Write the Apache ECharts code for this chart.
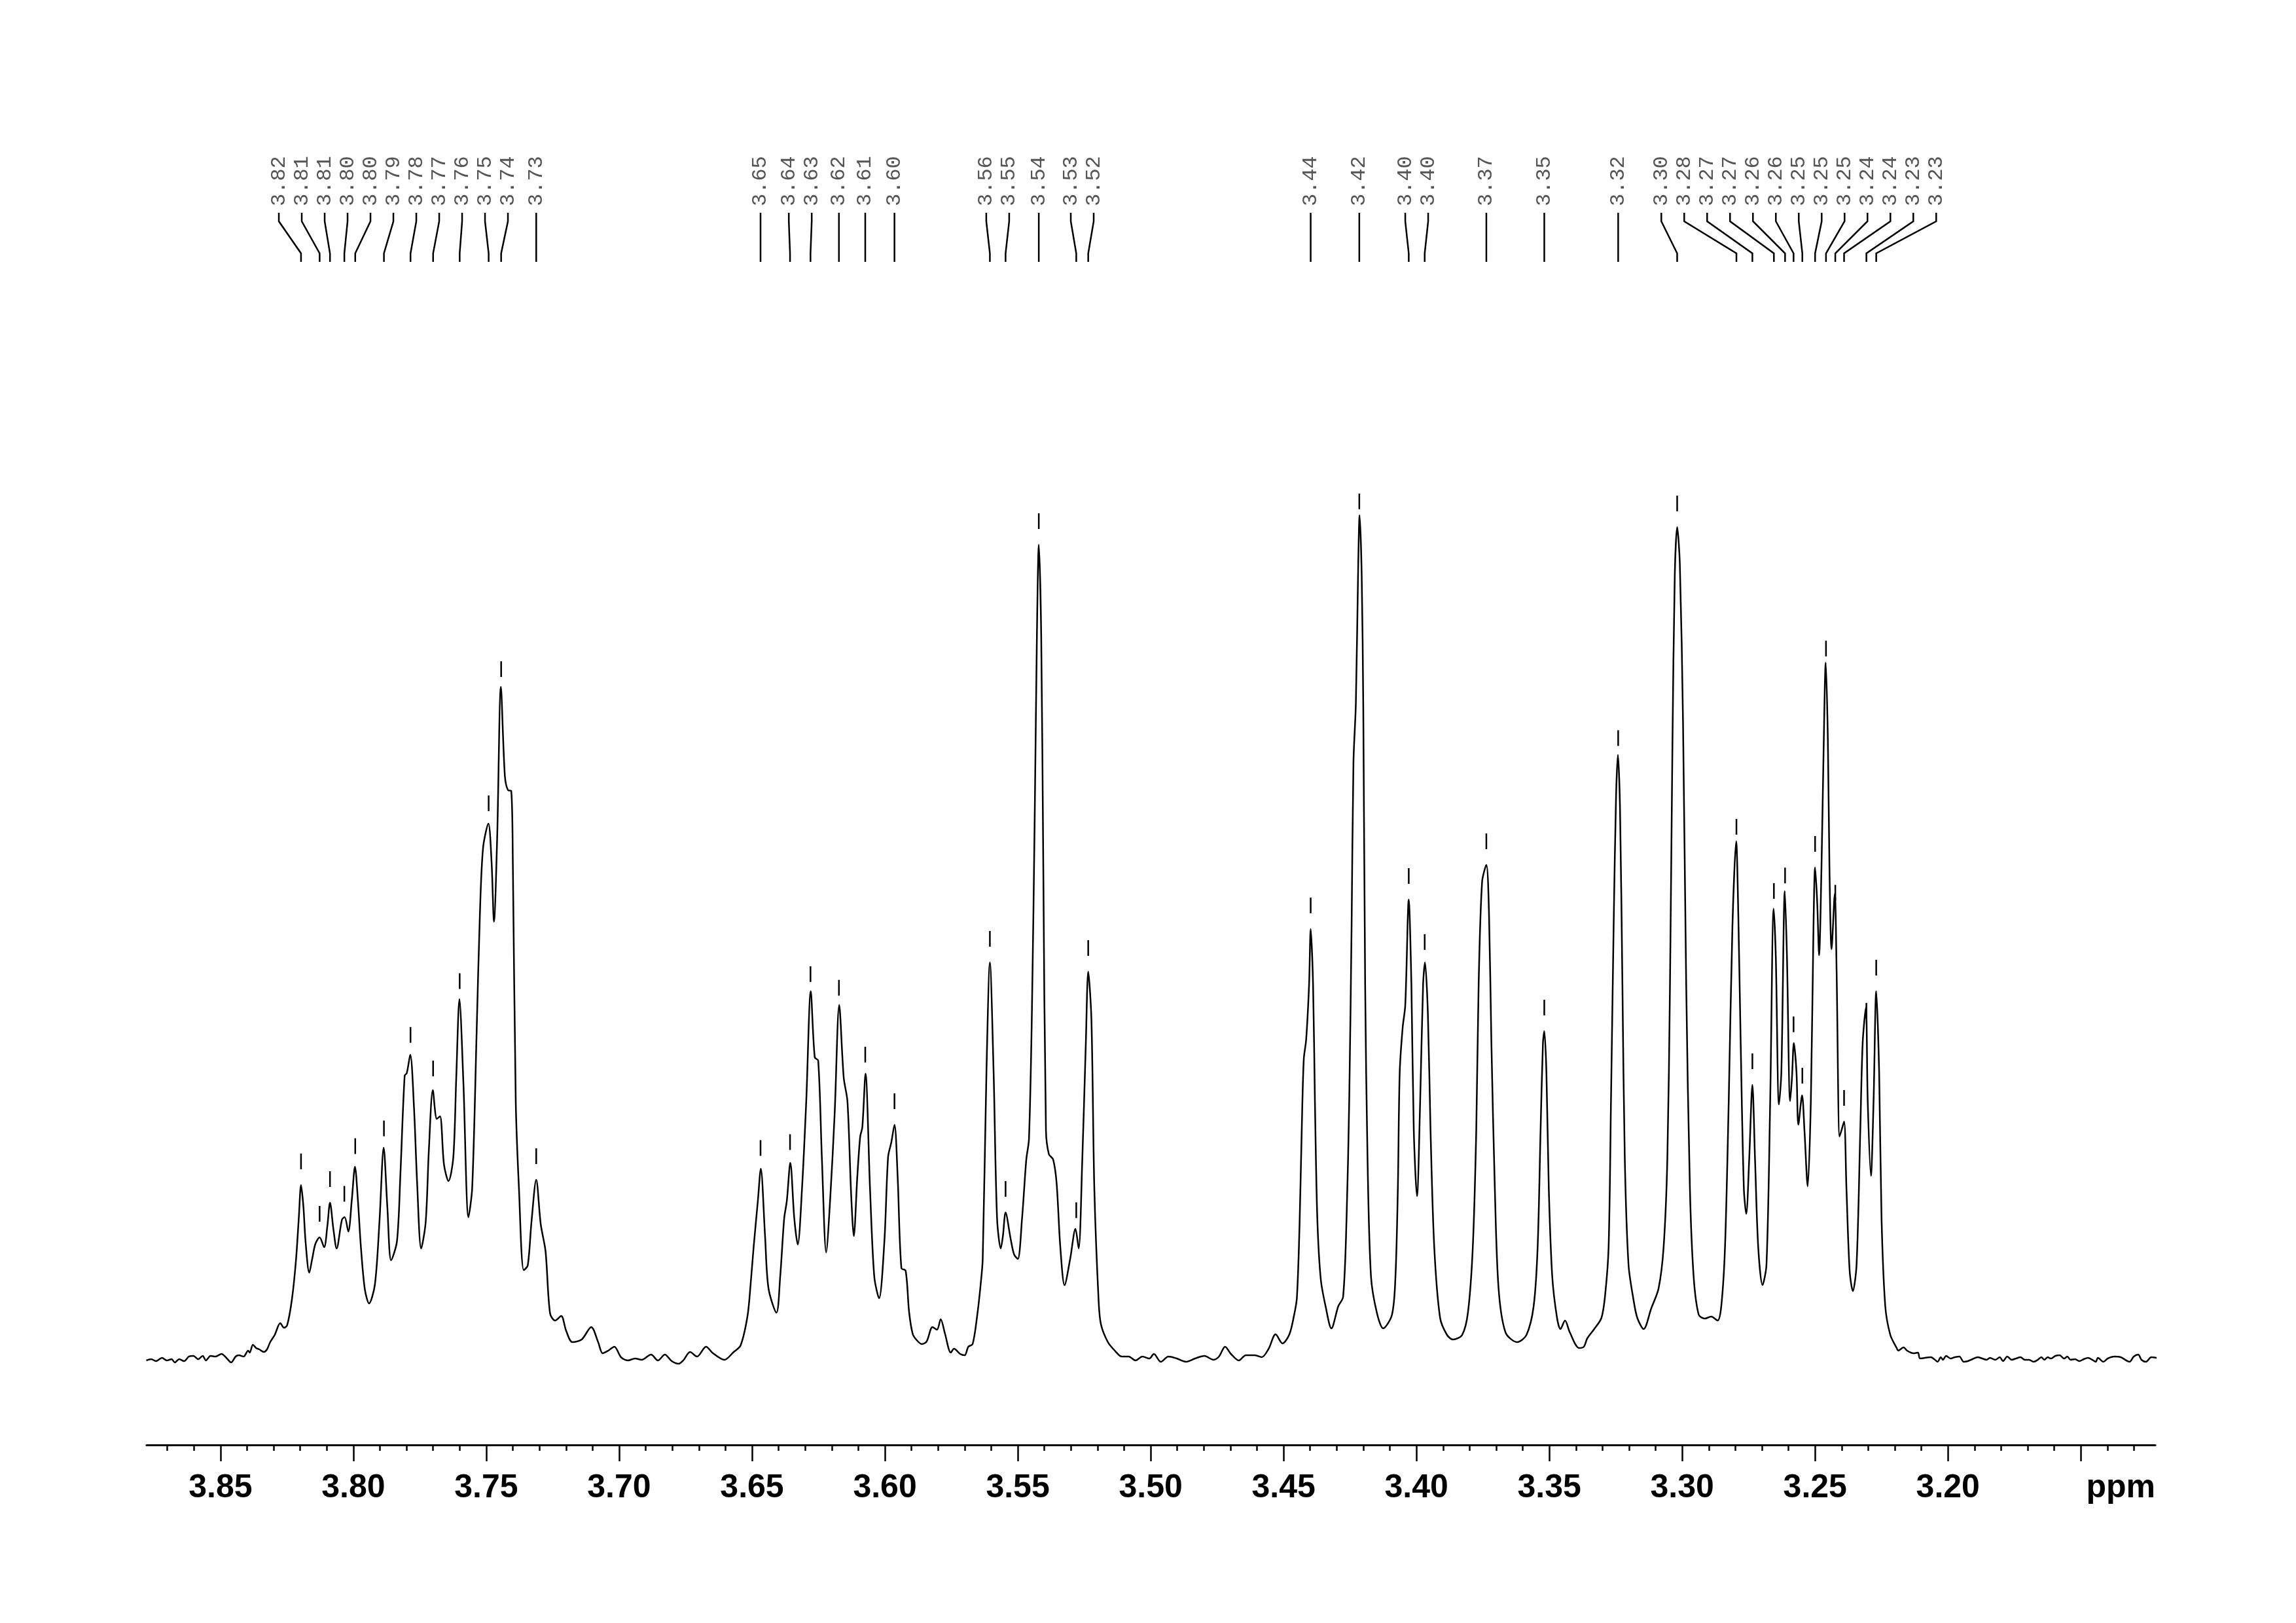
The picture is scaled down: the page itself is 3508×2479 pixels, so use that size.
<!DOCTYPE html>
<html><head><meta charset="utf-8">
<script src="https://cdn.jsdelivr.net/npm/echarts@6/dist/echarts.min.js"></script>
<style>html,body{margin:0;padding:0;background:#fff}#c{width:3508px;height:2479px}</style>
</head><body><div id="c"></div>
<script>
// ---- spectrum (ppm, intensity) ----
const baselineLeft = [[3.8779,-0.5],[3.8761,-0.3],[3.8743,-0.6],[3.8720,-0.1],[3.8702,-0.5],[3.8684,-0.3],[3.8672,-0.8],[3.8655,-0.3],[3.8637,-0.6],[3.8619,0.1],[3.8602,0.2],[3.8584,-0.3],[3.8567,0.2],[3.8555,-0.5],[3.8537,0.2],[3.8519,0.1],[3.8496,0.5],[3.8478,-0.1],[3.8460,-0.8],[3.8443,0.1],[3.8431,0.3],[3.8413,0.1],[3.8396,1.0],[3.8390,0.7],[3.8378,1.9],[3.8366,1.4],[3.8354,1.2],[3.8337,0.8],[3.8325,1.2],[3.8313,2.3]];
const groupA = [[3.8296,3.4],[3.8275,5.2],[3.8261,4.5],[3.8249,4.9],[3.8231,8.9],[3.8216,14.8],[3.8205,21.5],[3.8197,26.3],[3.8188,23],[3.8180,17.7],[3.8166,12.9],[3.8155,15],[3.8143,17.3],[3.8127,18.3],[3.8110,16.8],[3.8098,20],[3.8088,23.6],[3.8075,19.5],[3.8063,16.6],[3.8043,21.0],[3.8033,21.4],[3.8019,19.2],[3.8006,24],[3.7994,29.1],[3.7983,24],[3.7972,17.0],[3.7957,10.4],[3.7941,8.2],[3.7919,11.1],[3.7902,20.6],[3.7886,32.0],[3.7872,22.8],[3.7858,14.8],[3.7836,17.7],[3.7823,28.0],[3.7807,43.0],[3.7799,43.4],[3.7786,46.2],[3.7772,38.2],[3.7760,26.5],[3.7745,16.6],[3.7728,20.6],[3.7716,31.6],[3.7701,40.8],[3.7686,36.4],[3.7674,36.8],[3.7659,29.4],[3.7642,26.9],[3.7624,30.5],[3.7613,42.6],[3.7601,54.7],[3.7586,41.9],[3.7567,21.4],[3.7553,25.8],[3.7536,50.0],[3.7524,67.6],[3.7512,77.8],[3.7492,81.5],[3.7480,75.6],[3.7471,66.5],[3.7459,79.3],[3.7445,102.4],[3.7430,88.8],[3.7418,86.6],[3.7406,86.5],[3.7400,75.6],[3.7389,39.0],[3.7377,25.8],[3.7359,13.3],[3.7344,14.0],[3.7330,20.6],[3.7312,27.1],[3.7295,20.3],[3.7277,16.2],[3.7260,6.7],[3.7241,5.6],[3.7218,6.3],[3.7200,4.1],[3.7176,2.3],[3.7141,2.7],[3.7105,4.6],[3.7079,2.3],[3.7062,0.6],[3.7041,1.0],[3.7018,1.6],[3.6993,0],[3.6967,-0.5],[3.6940,-0.2],[3.6915,-0.4],[3.6880,0.4],[3.6854,-0.5],[3.6828,0.4],[3.6802,-0.6],[3.6776,-1.0],[3.6759,-0.5],[3.6733,0.8],[3.6707,0.1],[3.6673,1.6],[3.6647,0.6],[3.6604,-0.4],[3.6569,0.8],[3.6543,1.8],[3.6517,6.3]];
const groupB = [[3.6505,11.3],[3.6494,16.8],[3.6478,23.9],[3.6467,28.8],[3.6451,18.5],[3.6438,10.5],[3.6408,6.8],[3.6394,12.3],[3.6379,21.2],[3.6369,23.9],[3.6356,29.7],[3.6341,21.2],[3.6328,17.2],[3.6312,25.7],[3.6296,39.1],[3.6279,55.9],[3.6264,45.8],[3.6251,45.3],[3.6237,30.2],[3.6221,16.0],[3.6205,24.8],[3.6189,37.3],[3.6172,53.8],[3.6155,42.7],[3.6141,39.1],[3.6127,24.8],[3.6117,18.5],[3.6104,27.5],[3.6093,33.7],[3.6085,35.1],[3.6073,43.3],[3.6056,25.7],[3.6040,12.3],[3.6022,9.0],[3.6002,17.7],[3.5988,30.6],[3.5976,32.8],[3.5964,35.5],[3.5952,27.5],[3.5938,13.6],[3.5922,13.2],[3.5909,6.9],[3.5895,3.5],[3.5878,2.5],[3.5861,2.0],[3.5843,2.4],[3.5821,4.6],[3.5804,4.2],[3.5790,5.8],[3.5774,3.6],[3.5752,0.7],[3.5740,1.3],[3.5717,0.5],[3.5700,0.3],[3.5686,1.6],[3.5670,2.0],[3.5653,6.3],[3.5640,11],[3.5632,15.0],[3.5618,43.5],[3.5605,60.3],[3.5591,43.5],[3.5578,21.2],[3.5564,16.6],[3.5556,18.5],[3.5546,22.1],[3.5527,18.1],[3.5514,15.7],[3.5500,15.0],[3.5484,21.2],[3.5468,30.2],[3.5458,33.3],[3.5447,52.5],[3.5436,83.7],[3.5428,110.5],[3.5421,124.1],[3.5412,110.5],[3.5404,74.8],[3.5394,34.6],[3.5383,31.0],[3.5367,30.2],[3.5354,26.6],[3.5340,16.8],[3.5324,11.0],[3.5303,15.0],[3.5283,19.6],[3.5271,16.6],[3.5258,29.3],[3.5244,48.0],[3.5235,58.9],[3.5223,51.6],[3.5212,25.7],[3.5196,8.7],[3.5187,5.0],[3.5161,2.3],[3.5135,1.0],[3.5109,0.1],[3.5083,0.1],[3.5057,-0.5],[3.5031,0.1],[3.5005,-0.2],[3.4988,0.5],[3.4962,-0.7],[3.4933,0.1],[3.4902,-0.2],[3.4867,-0.7],[3.4833,-0.2],[3.4798,0.2],[3.4764,-0.4],[3.4743,0.1],[3.4720,1.6],[3.4698,0.5],[3.4668,-0.5],[3.4642,0.3],[3.4608,0.3],[3.4582,0],[3.4556,1.3],[3.4530,3.5],[3.4504,2.1],[3.4478,3.5],[3.4461,6.3],[3.4450,9.0]];
const groupC = [[3.4440,20],[3.4432,34],[3.4424,45.5],[3.4415,48.5],[3.4404,56.9],[3.4398,65.4],[3.4389,56.9],[3.4382,39.1],[3.4373,21.2],[3.4360,11.9],[3.4342,7.8],[3.4320,4.4],[3.4294,7.8],[3.4276,9.2],[3.4263,21.2],[3.4253,39.1],[3.4244,65.9],[3.4237,90.9],[3.4228,99.8],[3.4219,121.2],[3.4214,128.6],[3.4206,119.4],[3.4200,98.9],[3.4193,56.9],[3.4184,30.2],[3.4171,12.3],[3.4149,6.8],[3.4125,4.4],[3.4092,6.5],[3.4079,12.3],[3.4070,25.7],[3.4063,43.5],[3.4052,50.3],[3.4042,53.8],[3.4029,69.9],[3.4019,56.9],[3.4010,34.6],[3.3998,24.6],[3.3986,39.1],[3.3975,56.9],[3.3968,60.3],[3.3957,52.5],[3.3947,34.6],[3.3933,16.8],[3.3911,6.0],[3.3885,3.4],[3.3863,2.7],[3.3828,3.4],[3.3806,6.9],[3.3788,16.8],[3.3775,34.6],[3.3766,56.9],[3.3753,72.6],[3.3737,75.2],[3.3727,67.7],[3.3718,48.0],[3.3705,25.7],[3.3691,10.5],[3.3665,3.8],[3.3621,2.3],[3.3586,3.4],[3.3559,7.8],[3.3544,16.8],[3.3533,34.6],[3.3524,48.0],[3.3519,49.8],[3.3511,43.5],[3.3502,25.7],[3.3489,12.3],[3.3471,6.0],[3.3458,4.3],[3.3441,5.6],[3.3423,3.8],[3.3388,1.4],[3.3370,1.6],[3.3357,2.9],[3.3331,4.3],[3.3304,6.0],[3.3290,9.5],[3.3277,16.8]];
const groupD = [[3.3268,39.1],[3.3258,65.9],[3.3249,85.5],[3.3242,92.0],[3.3234,83.7],[3.3225,56.9],[3.3216,30.2],[3.3202,14.1],[3.3183,8.7],[3.3169,6.0],[3.3145,4.3],[3.3117,7.4],[3.3089,10.5],[3.3070,16.8],[3.3056,30.2],[3.3046,56.9],[3.3037,92.7],[3.3028,119.4],[3.3019,126.8],[3.3009,121.2],[3.2997,97.1],[3.2985,56.9],[3.2971,25.7],[3.2957,12.3],[3.2938,6.5],[3.2915,5.9],[3.2891,6.2],[3.2867,5.6],[3.2853,7.8],[3.2839,16.8],[3.2825,39.1],[3.2811,65.9],[3.2797,78.8],[3.2789,67.7],[3.2780,48.0],[3.2768,25.7],[3.2759,21.9],[3.2748,30.2],[3.2736,41.6],[3.2726,30.2],[3.2714,16.8],[3.2698,11.0],[3.2683,14.1],[3.2669,39.1],[3.2656,68.5],[3.2648,61.4],[3.2636,38.6],[3.2627,43.5],[3.2614,71.2],[3.2606,61.4],[3.2594,39.1],[3.2587,42.7],[3.2580,48.0],[3.2570,43.5],[3.2563,35.5],[3.2549,40.0],[3.2540,34.6],[3.2528,26.1],[3.2516,39.1],[3.2506,65.9],[3.2500,74.8],[3.2492,69.4],[3.2485,61.4],[3.2476,74.8],[3.2468,92.7],[3.2460,106.1],[3.2452,94.4],[3.2446,74.8],[3.2438,62.3],[3.2426,70.8],[3.2419,58.7],[3.2408,33.7],[3.2401,34.6],[3.2391,36.0],[3.2382,25.7],[3.2370,13.2],[3.2358,10.1],[3.2344,14.1],[3.2330,34.6],[3.2321,48.0],[3.2309,53.4],[3.2302,39.1],[3.2290,27.7],[3.2280,39.1],[3.2270,55.9],[3.2259,43.5],[3.2250,21.2],[3.2236,7.8],[3.2217,3.4],[3.2193,1.4]];
const baselineRight = [[3.2187,1.0],[3.2167,1.5],[3.2154,1.0],[3.2130,0.6],[3.2113,0.7],[3.2105,-0.2],[3.2064,0.0],[3.2052,-0.3],[3.2039,-0.7],[3.2027,0.0],[3.2019,-0.4],[3.2007,0.2],[3.1990,-0.2],[3.1974,0.0],[3.1957,0.1],[3.1941,-0.7],[3.1925,-0.6],[3.1908,-0.3],[3.1888,0.0],[3.1871,-0.2],[3.1855,-0.4],[3.1842,-0.1],[3.1822,-0.4],[3.1805,0.0],[3.1793,-0.6],[3.1777,0.1],[3.1760,-0.4],[3.1744,-0.2],[3.1727,0.0],[3.1711,-0.4],[3.1695,-0.4],[3.1678,-0.7],[3.1662,-0.4],[3.1649,0.0],[3.1637,-0.4],[3.1625,0.0],[3.1613,-0.2],[3.1596,0.2],[3.1580,0.3],[3.1563,-0.2],[3.1551,0.1],[3.1539,-0.4],[3.1522,-0.3],[3.1506,-0.6],[3.1489,-0.3],[3.1473,-0.1],[3.1457,-0.4],[3.1444,-0.7],[3.1436,-0.1],[3.1415,-0.7],[3.1399,-0.2],[3.1374,0.1],[3.1350,0.0],[3.1317,-0.7],[3.1301,0.1],[3.1284,0.4],[3.1272,-0.4],[3.1255,-0.7],[3.1235,0.0],[3.1214,-0.1]];

// picked peak positions (ppm)
const peakPositions = [3.8197,3.8127,3.8088,3.8034,3.7993,3.7885,3.7785,3.7700,3.7600,3.7491,3.7444,3.7312,
  3.6468,3.6357,3.6280,3.6173,3.6074,3.5964,3.5605,3.5546,3.5421,3.5280,3.5235,
  3.4398,3.4215,3.4029,3.3969,3.3737,3.3519,3.3241,3.3019,3.2796,3.2736,3.2655,3.2613,3.2581,3.2548,3.2500,3.2459,3.2424,3.2391,3.2307,3.2270];

// axis ticks
const majorTicks = [3.15,3.20,3.25,3.30,3.35,3.40,3.45,3.50,3.55,3.60,3.65,3.70,3.75,3.80,3.85];
const tickLabels = [3.20,3.25,3.30,3.35,3.40,3.45,3.50,3.55,3.60,3.65,3.70,3.75,3.80,3.85];
const minorTicks = [3.13,3.14,3.15,3.16,3.17,3.18,3.19,3.20,3.21,3.22,3.23,3.24,3.25,3.26,3.27,3.28,3.29,3.30,3.31,3.32,3.33,3.34,3.35,3.36,3.37,3.38,3.39,3.40,3.41,3.42,3.43,3.44,3.45,3.46,3.47,3.48,3.49,3.50,3.51,3.52,3.53,3.54,3.55,3.56,3.57,3.58,3.59,3.60,3.61,3.62,3.63,3.64,3.65,3.66,3.67,3.68,3.69,3.70,3.71,3.72,3.73,3.74,3.75,3.76,3.77,3.78,3.79,3.80,3.81,3.82,3.83,3.84,3.85,3.86,3.87];

const spectrum = [].concat(baselineLeft, groupA, groupB, groupC, groupD, baselineRight).sort((a,b)=>b[0]-a[0]);

function intensityAt(p){
  for (let i=0;i<spectrum.length-1;i++){
    const a=spectrum[i], b=spectrum[i+1];
    if (p<=a[0] && p>=b[0]) { const t=(a[0]-p)/(a[0]-b[0]); return a[1]+t*(b[1]-a[1]); }
  }
  return 0;
}

const X_MIN = 3.122, X_MAX = 3.8778;
const GAP = 35, TEXT_Y = 315, Y1 = 325, Y2 = 338, Y3 = 387, Y4 = 400;

const chart = echarts.init(document.getElementById('c'), null, {renderer:'canvas'});
chart.setOption({
  backgroundColor:'#fff',
  animation:false,
  grid:{left:224, right:215, top:373, bottom:272, containLabel:false, outerBoundsMode:'none'},
  xAxis:[{
    type:'value', min:X_MIN, max:X_MAX, inverse:true, position:'bottom',
    axisLine:{show:true, onZero:false, lineStyle:{color:'#000', width:3}},
    axisTick:{show:true, customValues:majorTicks, length:25, lineStyle:{color:'#000', width:2.5}},
    axisLabel:{show:true, customValues:tickLabels, formatter:v=>Number(v).toFixed(2), margin:41, color:'#000',
      fontSize:50, fontWeight:'bold', fontFamily:'"Liberation Sans", Arial, sans-serif'},
    splitLine:{show:false},
    name:'ppm', nameLocation:'start', nameGap:0,
    nameTextStyle:{align:'right', verticalAlign:'top', padding:[41,0,0,0], color:'#000', fontSize:50, fontWeight:'bold', fontFamily:'"Liberation Sans", Arial, sans-serif'}
  },{
    type:'value', min:X_MIN, max:X_MAX, inverse:true, position:'bottom', gridIndex:0, offset:0,
    axisLine:{show:false, onZero:false},
    axisTick:{show:true, customValues:minorTicks, length:9, lineStyle:{color:'#000', width:2.5}},
    axisLabel:{show:false}, splitLine:{show:false}
  }],
  yAxis:{type:'value', min:-13.4, max:170, show:false, splitLine:{show:false}},
  series:[{
    type:'line', data:spectrum, showSymbol:false, symbol:'none', smooth:0.3,
    lineStyle:{color:'#000', width:2.5}, silent:true, z:3
  },{
    type:'custom', coordinateSystem:'cartesian2d', data:[[3.5,0]], silent:true, clip:false, z:4,
    renderItem:function(params, api){
      const pts = peakPositions.map(p=>{ const c=api.coord([p, intensityAt(p)]); return {ppm:p, x:c[0], y:c[1]}; });
      pts.sort((a,b)=>a.x-b.x);
      let clusters = pts.map(p=>({items:[p], center:p.x}));
      let merged = true;
      while (merged){
        merged=false;
        for (let i=0;i<clusters.length-1;i++){
          const A=clusters[i], B=clusters[i+1];
          const aLast=A.center+(A.items.length-1)/2*GAP, bFirst=B.center-(B.items.length-1)/2*GAP;
          if (bFirst-aLast < GAP){
            const items=A.items.concat(B.items);
            const center=items.reduce((s,q)=>s+q.x,0)/items.length;
            clusters.splice(i,2,{items, center}); merged=true; break;
          }
        }
      }
      const children=[];
      clusters.forEach(cl=>cl.items.forEach((p,k)=>{
        const lx = cl.center+(k-(cl.items.length-1)/2)*GAP;
        children.push({type:'polyline', shape:{points:[[lx,Y1],[lx,Y2],[p.x,Y3],[p.x,Y4]]}, style:{stroke:'#000', lineWidth:2.5, fill:null}});
        children.push({type:'text', x:lx, y:TEXT_Y, rotation:Math.PI/2,
          style:{text:p.ppm.toFixed(2), fill:'#555', fontSize:32, fontFamily:'"Liberation Mono", monospace', align:'left', verticalAlign:'middle'}});
        children.push({type:'line', shape:{x1:p.x, y1:p.y-48, x2:p.x, y2:p.y-24}, style:{stroke:'#000', lineWidth:2.5}});
      }));
      return {type:'group', children};
    }
  }]
});
</script></body></html>
